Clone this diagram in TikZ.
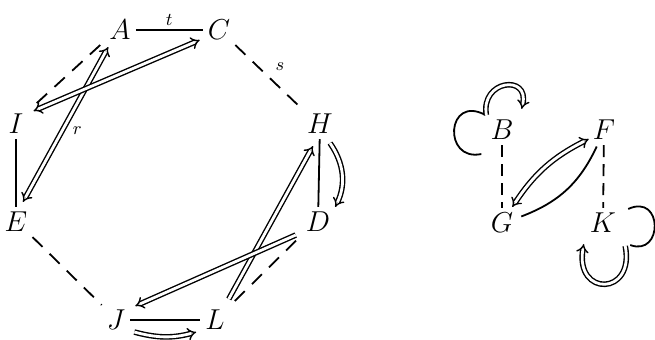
\documentclass[tikz,border=0pt]{standalone}
\usetikzlibrary{arrows.meta}
\tikzset{imp/.tip={Implies[scale=1.35]}}
\begin{document}
\begin{tikzpicture}[x=0.5pt,y=0.5pt,
  v/.style={inner sep=2.4pt, font=\fontsize{13.5}{15}\selectfont},
  ln/.style={line width=0.9pt},
  dsh/.style={line width=0.9pt, dash pattern=on 7pt off 5pt},
  dsh2/.style={line width=0.9pt, dash pattern=on 6pt off 3.5pt},
  dbl/.style={double, line width=0.7pt, double distance=1.4pt},
  lbl/.style={font=\small, inner sep=1pt}]
\path[use as bounding box] (0,0) rectangle (655,-339);
% nodes
\node[v] (A) at (120,-30) {$A$};
\node[v] (C) at (219,-30) {$C$};
\node[v] (I) at (16,-124) {$I$};
\node[v] (H) at (320,-124) {$H$};
\node[v] (E) at (16,-222) {$E$};
\node[v] (D) at (318,-222) {$D$};
\node[v] (J) at (116,-320) {$J$};
\node[v] (L) at (215,-320) {$L$};
\node[v] (B) at (502,-130) {$B$};
\node[v] (F) at (604,-130) {$F$};
\node[v] (G) at (502,-223) {$G$};
\node[v] (K) at (603,-223) {$K$};
% left graph: plain edges
\draw[ln] (A) -- node[lbl, above=1pt]{$t$} (C);
\draw[dsh] (C.south east) -- node[lbl, above right=2pt]{$s$} (H.north west);
\draw[dsh] ([shift={(-4,0)}]A.south west) -- ([shift={(4,2)}]I.north east);
\draw[ln] (I) -- (E);
\draw[dsh] (E.south east) -- (J.north west);
\draw[ln] (J) -- (L);
\draw[dsh] ([shift={(5,4)}]L.north east) -- ([shift={(-3,-2)}]D.south west);
\draw[ln] (H) -- (D);
% left graph: double arrows
\draw[dbl,{imp}-{imp}] ([shift={(7,5)}]E.north) -- node[lbl,pos=.46,right=4pt]{$r$} ([shift={(4,-2)}]A.south west);
\draw[dbl,{imp}-{imp}] ([shift={(5,-2)}]I.north east) -- ([shift={(-3,5)}]C.south west);
\draw[dbl,-{imp}] ([shift={(-1,6)}]L.north east) -- ([shift={(-7,-7)}]H.south);
\draw[dbl,-{imp}] ([shift={(-5,2)}]D.south west) -- ([shift={(5,-1)}]J.north east);
\draw[dbl,-{imp}] ([shift={(-8,-4)}]H.south east) to[bend left=30] (D.north east);
\draw[dbl,-{imp}] ([shift={(4,3)}]J.south east) to[bend right=15] ([shift={(-4,3)}]L.south west);
% right graph
\draw[dsh2] (B) -- (G);
\draw[dsh2] (F) -- (K);
\draw[dbl,{imp}-{imp}] ([shift={(-6,1)}]G.north east) to[bend left=15] ([shift={(1,6)}]F.south west);
\draw[ln] ([shift={(3,-8.5)}]G.north east) to[bend right=22] ([shift={(9,-1.5)}]F.south west);
\draw[ln] (B.north west) .. controls +(-39,21) and +(-39,-8) .. ([shift={(-4,-9)}]B.south west);
\draw[dbl,-{imp}] ([shift={(1,0)}]B.north west) .. controls +(-6,35) and +(8,35) .. ([shift={(3,6)}]B.north east);
\draw[dbl,-{imp}] ([shift={(4,-8)}]K.south east) .. controls +(10,-50) and +(-9,-53) .. ([shift={(-1,-6)}]K.south west);
\draw[ln] ([shift={(7,-1)}]K.north east) .. controls +(35,16) and +(33,-12) .. ([shift={(9,-7)}]K.south east);
\end{tikzpicture}
\end{document}
